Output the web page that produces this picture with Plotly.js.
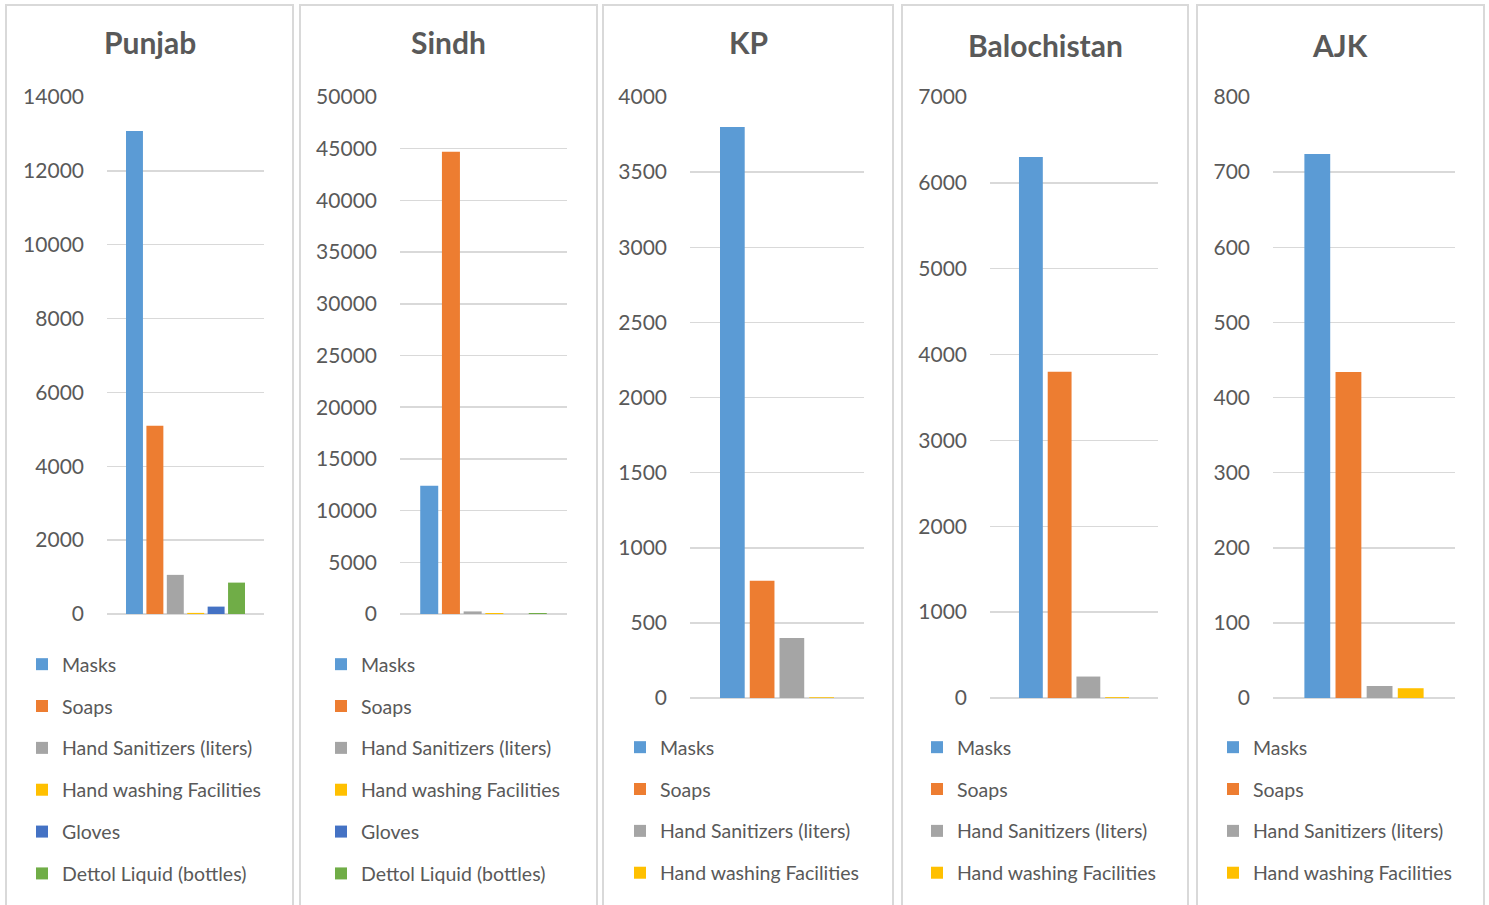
<!DOCTYPE html>
<html>
<head>
<meta charset="utf-8">
<script src="https://cdn.plot.ly/plotly-3.0.1.min.js"></script>
<style>html,body{margin:0;padding:0;background:#fff;}#chart{width:1489px;height:905px;}</style>
</head>
<body>
<div id="chart"></div>
<script>
// ---- data ----
const regions = ["Punjab", "Sindh", "KP", "Balochistan", "AJK"];
const seriesNames = ["Masks", "Soaps", "Hand Sanitizers (liters)", "Hand washing Facilities", "Gloves", "Dettol Liquid (bottles)"];
const punjabValues = [13080, 5100, 1060, 30, 200, 850];
const sindhValues = [12400, 44700, 250, 100, 0, 100];
const kpValues = [3800, 780, 400, 5];
const balochistanValues = [6300, 3800, 250, 10];
const ajkValues = [724, 434, 16, 13];
const yMax = [14000, 50000, 4000, 7000, 800];
const yStep = [2000, 5000, 500, 1000, 100];

// ---- styling ----
const colors = ["#5B9BD5", "#ED7D31", "#A5A5A5", "#FFC000", "#4472C4", "#70AD47"];
const W = 1489, H = 905;
const allValues = [punjabValues, sindhValues, kpValues, balochistanValues, ajkValues];
const plotX = [[107, 264], [400, 567], [690, 864], [990, 1158], [1273, 1455]];
const plotY = [[97, 614], [97, 614], [97, 698], [97, 698], [97, 698]];
const frames = [[6, 293], [300, 597], [603, 893], [902, 1188], [1197, 1484]];
const titleX = [150, 448, 748, 1045, 1340];
const titleY = [42, 42, 42, 45, 45];
const legendTextX = [62, 361, 660, 957, 1253];
const legendTopY = [665, 665, 748, 748, 748];
const FONT = "Lato, 'Open Sans', sans-serif";
const TXT = "#595959";

const px = x => x / W;
const py = y => 1 - y / H;

const traces = [];
const layout = {
  width: W, height: H,
  margin: {l: 0, r: 0, t: 0, b: 0},
  paper_bgcolor: "#fff", plot_bgcolor: "#fff",
  barmode: "group", bargap: 0.22, bargroupgap: 0.17,
  font: {family: FONT, color: TXT},
  showlegend: true,
  shapes: [], annotations: []
};

allValues.forEach((vals, p) => {
  const ax = p === 0 ? "" : String(p + 1);
  const legendName = p === 0 ? "legend" : "legend" + (p + 1);
  vals.forEach((v, i) => {
    traces.push({
      type: "bar",
      x: [regions[p]],
      y: [v],
      name: seriesNames[i],
      marker: {color: colors[i], line: {width: 0}},
      xaxis: "x" + ax, yaxis: "y" + ax,
      legend: legendName,
      legendgroup: regions[p] + "-" + i,
      hoverinfo: "name+y"
    });
  });
  const nSeries = vals.length;
  const half = nSeries === 6 ? 0.5 : 0.57;
  layout["xaxis" + ax] = {
    domain: [px(plotX[p][0]), px(plotX[p][1])],
    anchor: "y" + ax,
    range: [-half, half],
    showticklabels: false, showgrid: false, zeroline: false, showline: false,
    ticks: "", fixedrange: true
  };
  layout["yaxis" + ax] = {
    domain: [py(plotY[p][1]), py(plotY[p][0])],
    anchor: "x" + ax,
    range: [0, yMax[p]],
    dtick: yStep[p], tick0: 0, tickformat: "d",
    showgrid: true, gridcolor: "#d9d9d9", gridwidth: 1.5,
    zeroline: true, zerolinecolor: "#d9d9d9", zerolinewidth: 2,
    showline: false, ticks: "",
    ticklabelstandoff: 22,
    tickfont: {family: FONT, size: 21, color: TXT},
    fixedrange: true
  };
  layout[legendName] = {
    x: px(legendTextX[p] - 40), xanchor: "left",
    y: py(legendTopY[p] - 20), yanchor: "top",
    orientation: "v",
    traceorder: "grouped",
    tracegroupgap: 13.5,
    bgcolor: "rgba(0,0,0,0)", borderwidth: 0,
    font: {family: FONT, size: 19.5, color: TXT}
  };
  layout.shapes.push({
    type: "rect", xref: "paper", yref: "paper", layer: "below",
    x0: px(frames[p][0]), x1: px(frames[p][1]), y0: py(H + 5), y1: py(5),
    line: {color: "#d9d9d9", width: 2}, fillcolor: "rgba(0,0,0,0)"
  });
  layout.annotations.push({
    xref: "paper", yref: "paper", x: px(titleX[p]), y: py(titleY[p]),
    xanchor: "center", yanchor: "middle", showarrow: false,
    text: "<b>" + regions[p] + "</b>",
    font: {family: FONT, size: 30, color: TXT}
  });
});

Plotly.newPlot("chart", traces, layout, {displayModeBar: false, staticPlot: true});
</script>
</body>
</html>
